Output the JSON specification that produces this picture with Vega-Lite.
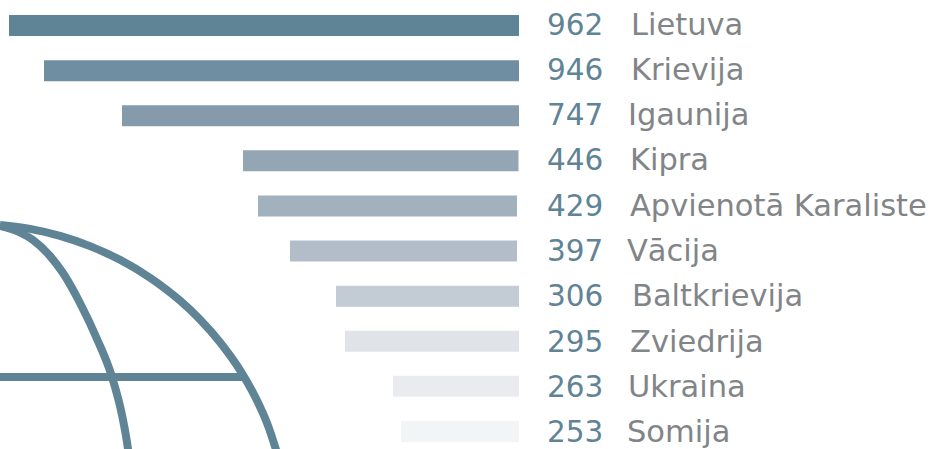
{
"$schema":"https://vega.github.io/schema/vega-lite/v6.json",
"width":934,"height":449,
"autosize":{"type":"fit","contains":"padding"},
"padding":0,
"background":"white",
"config":{"view":{"stroke":null},"axis":{"domain":false,"grid":false,"ticks":false}},
"datasets":{
"bars":[
{"name":"Lietuva","value":962,"length":510,"gap":0},
{"name":"Krievija","value":946,"length":475,"gap":0},
{"name":"Igaunija","value":747,"length":397,"gap":0},
{"name":"Kipra","value":446,"length":276,"gap":0.5},
{"name":"Apvienotā Karaliste","value":429,"length":261,"gap":2},
{"name":"Vācija","value":397,"length":229,"gap":2},
{"name":"Baltkrievija","value":306,"length":183,"gap":0},
{"name":"Zviedrija","value":295,"length":174,"gap":0},
{"name":"Ukraina","value":263,"length":126,"gap":0},
{"name":"Somija","value":253,"length":118,"gap":0}
],
"globe":[
{"line":"outer","order":1,"gx":0,"gy":225},{"line":"outer","order":2,"gx":30,"gy":228.9},{"line":"outer","order":3,"gx":60,"gy":235.9},{"line":"outer","order":4,"gx":90,"gy":246.1},{"line":"outer","order":5,"gx":120,"gy":259.8},{"line":"outer","order":6,"gx":150,"gy":277.7},{"line":"outer","order":7,"gx":180,"gy":300.6},{"line":"outer","order":8,"gx":200,"gy":319.5},{"line":"outer","order":9,"gx":220,"gy":342.2},{"line":"outer","order":10,"gx":240,"gy":370.1},{"line":"outer","order":11,"gx":255,"gy":396.5},{"line":"outer","order":12,"gx":268,"gy":425.6},{"line":"outer","order":13,"gx":278,"gy":456},
{"line":"inner","order":1,"gx":0,"gy":226},{"line":"inner","order":2,"gx":20,"gy":232.5},{"line":"inner","order":3,"gx":33,"gy":240},{"line":"inner","order":4,"gx":50,"gy":256},{"line":"inner","order":5,"gx":63,"gy":273},{"line":"inner","order":6,"gx":80,"gy":303},{"line":"inner","order":7,"gx":97,"gy":339},{"line":"inner","order":8,"gx":112,"gy":377},{"line":"inner","order":9,"gx":122,"gy":415},{"line":"inner","order":10,"gx":128,"gy":449},{"line":"inner","order":11,"gx":130,"gy":465},
{"line":"equator","order":1,"gx":0,"gy":377},{"line":"equator","order":2,"gx":245,"gy":377}
]
},
"resolve":{"scale":{"x":"independent","y":"independent"}},
"layer":[
{"data":{"name":"globe"},
"mark":{"type":"line","stroke":"#5f8496","strokeWidth":8,"interpolate":"monotone","clip":true},
"encoding":{
"x":{"field":"gx","type":"quantitative","axis":null,"scale":{"domain":[0,934],"range":[0,934],"nice":false,"zero":false}},
"y":{"field":"gy","type":"quantitative","axis":null,"scale":{"domain":[0,449],"range":[0,449],"nice":false,"zero":false}},
"detail":{"field":"line"},
"order":{"field":"order"}}},
{"data":{"name":"bars"},
"mark":{"type":"bar"},
"encoding":{
"y":{"field":"name","type":"nominal","sort":null,"axis":null,"scale":{"type":"band","range":[3,454],"paddingInner":0.534,"paddingOuter":0.267}},
"x":{"field":"length","type":"quantitative","axis":null,"scale":{"domain":[0,519],"range":[519,0],"nice":false,"zero":false}},
"x2":{"field":"gap"},
"color":{"field":"name","type":"nominal","sort":null,"legend":null,"scale":{"domain":["Lietuva","Krievija","Igaunija","Kipra","Apvienotā Karaliste","Vācija","Baltkrievija","Zviedrija","Ukraina","Somija"],"range":["#5f8496","#708ea2","#859bab","#94a6b4","#a2b1be","#b2bdc9","#c3cbd5","#e0e3e8","#e9ebef","#f3f4f6"]}}}},
{"data":{"name":"bars"},
"mark":{"type":"text","align":"left","baseline":"middle","font":"DejaVu Sans","fontSize":29.5,"fill":"#5f8496"},
"encoding":{
"y":{"field":"name","type":"nominal","sort":null,"axis":null,"scale":{"type":"band","domain":["Lietuva","Krievija","Igaunija","Kipra","Apvienotā Karaliste","Vācija","Baltkrievija","Zviedrija","Ukraina","Somija"],"range":[2.9,455.7],"paddingInner":0.534,"paddingOuter":0.267}},
"x":{"datum":-28,"type":"quantitative","axis":null,"scale":{"domain":[0,519],"range":[519,0],"nice":false,"zero":false}},
"text":{"field":"value","type":"quantitative","format":"d"}}},
{"data":{"name":"bars"},
"transform":[{"filter":{"field":"name","oneOf":["Lietuva","Krievija"]}}],
"mark":{"type":"text","align":"left","baseline":"middle","font":"DejaVu Sans","fontSize":30.5,"fill":"#828588"},
"encoding":{
"y":{"field":"name","type":"nominal","axis":null,"scale":{"type":"band","domain":["Lietuva","Krievija","Igaunija","Kipra","Apvienotā Karaliste","Vācija","Baltkrievija","Zviedrija","Ukraina","Somija"],"range":[2.9,455.7],"paddingInner":0.534,"paddingOuter":0.267}},
"x":{"datum":-112,"type":"quantitative","axis":null,"scale":{"domain":[0,519],"range":[519,0],"nice":false,"zero":false}},
"text":{"field":"name","type":"nominal"}}},
{"data":{"name":"bars"},
"transform":[{"filter":{"field":"name","oneOf":["Igaunija","Ukraina"]}}],
"mark":{"type":"text","align":"left","baseline":"middle","font":"DejaVu Sans","fontSize":30.5,"fill":"#828588"},
"encoding":{
"y":{"field":"name","type":"nominal","axis":null,"scale":{"type":"band","domain":["Lietuva","Krievija","Igaunija","Kipra","Apvienotā Karaliste","Vācija","Baltkrievija","Zviedrija","Ukraina","Somija"],"range":[2.9,455.7],"paddingInner":0.534,"paddingOuter":0.267}},
"x":{"datum":-109,"type":"quantitative","axis":null,"scale":{"domain":[0,519],"range":[519,0],"nice":false,"zero":false}},
"text":{"field":"name","type":"nominal"}}},
{"data":{"name":"bars"},
"transform":[{"filter":{"field":"name","oneOf":["Kipra","Apvienotā Karaliste","Zviedrija"]}}],
"mark":{"type":"text","align":"left","baseline":"middle","font":"DejaVu Sans","fontSize":30.5,"fill":"#828588"},
"encoding":{
"y":{"field":"name","type":"nominal","axis":null,"scale":{"type":"band","domain":["Lietuva","Krievija","Igaunija","Kipra","Apvienotā Karaliste","Vācija","Baltkrievija","Zviedrija","Ukraina","Somija"],"range":[2.9,455.7],"paddingInner":0.534,"paddingOuter":0.267}},
"x":{"datum":-111,"type":"quantitative","axis":null,"scale":{"domain":[0,519],"range":[519,0],"nice":false,"zero":false}},
"text":{"field":"name","type":"nominal"}}},
{"data":{"name":"bars"},
"transform":[{"filter":{"field":"name","oneOf":["Vācija","Somija"]}}],
"mark":{"type":"text","align":"left","baseline":"middle","font":"DejaVu Sans","fontSize":30.5,"fill":"#828588"},
"encoding":{
"y":{"field":"name","type":"nominal","axis":null,"scale":{"type":"band","domain":["Lietuva","Krievija","Igaunija","Kipra","Apvienotā Karaliste","Vācija","Baltkrievija","Zviedrija","Ukraina","Somija"],"range":[2.9,455.7],"paddingInner":0.534,"paddingOuter":0.267}},
"x":{"datum":-108,"type":"quantitative","axis":null,"scale":{"domain":[0,519],"range":[519,0],"nice":false,"zero":false}},
"text":{"field":"name","type":"nominal"}}},
{"data":{"name":"bars"},
"transform":[{"filter":{"field":"name","oneOf":["Baltkrievija"]}}],
"mark":{"type":"text","align":"left","baseline":"middle","font":"DejaVu Sans","fontSize":30.5,"fill":"#828588"},
"encoding":{
"y":{"field":"name","type":"nominal","axis":null,"scale":{"type":"band","domain":["Lietuva","Krievija","Igaunija","Kipra","Apvienotā Karaliste","Vācija","Baltkrievija","Zviedrija","Ukraina","Somija"],"range":[2.9,455.7],"paddingInner":0.534,"paddingOuter":0.267}},
"x":{"datum":-113,"type":"quantitative","axis":null,"scale":{"domain":[0,519],"range":[519,0],"nice":false,"zero":false}},
"text":{"field":"name","type":"nominal"}}}
]
}
